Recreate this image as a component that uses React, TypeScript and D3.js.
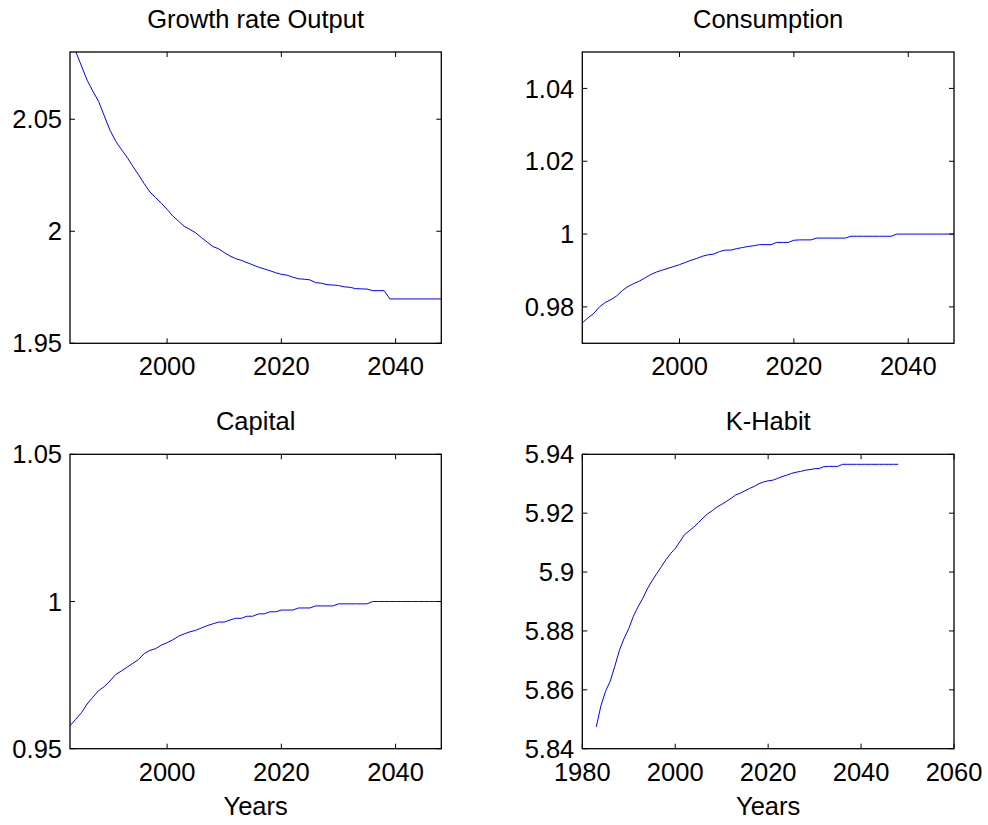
import React from "react";
import * as d3 from "d3";

const years = [
  1983, 1984, 1985, 1986, 1987, 1988, 1989, 1990, 1991, 1992, 1993, 1994, 1995, 1996, 1997, 1998, 1999,
  2000, 2001, 2002, 2003, 2004, 2005, 2006, 2007, 2008, 2009, 2010, 2011, 2012, 2013, 2014, 2015, 2016,
  2017, 2018, 2019, 2020, 2021, 2022, 2023, 2024, 2025, 2026, 2027, 2028, 2029, 2030, 2031, 2032, 2033,
  2034, 2035, 2036, 2037, 2038, 2039, 2040, 2041, 2042, 2043, 2044, 2045, 2046, 2047, 2048,
];

const growthOutput = [
  2.0865, 2.0802, 2.0738, 2.0674, 2.0625, 2.058, 2.0515, 2.0451, 2.0402, 2.0365, 2.033, 2.029, 2.0252,
  2.0212, 2.0175, 2.015, 2.0125, 2.0098, 2.0068, 2.0045, 2.0022, 2.0008, 1.9993, 1.9972, 1.9952, 1.9932,
  1.9922, 1.9905, 1.989, 1.9878, 1.987, 1.986, 1.985, 1.984, 1.9832, 1.9824, 1.9815, 1.9808, 1.9804,
  1.9795, 1.9788, 1.9786, 1.9783, 1.9771, 1.9768, 1.9762, 1.976, 1.9758, 1.9752, 1.975, 1.9744, 1.9743,
  1.9742, 1.9735, 1.9735, 1.9735, 1.9698, 1.9698, 1.9698, 1.9698, 1.9698, 1.9698, 1.9698, 1.9698, 1.9698,
  1.9698,
];

const consumption = [
  0.9756, 0.977, 0.9782, 0.98, 0.9812, 0.982, 0.983, 0.9845, 0.9856, 0.9864, 0.9871, 0.988, 0.9889, 0.9896,
  0.9901, 0.9906, 0.9911, 0.9916, 0.9922, 0.9928, 0.9933, 0.9939, 0.9943, 0.9945, 0.9952, 0.9956, 0.9956,
  0.996, 0.9963, 0.9966, 0.9968, 0.9971, 0.9971, 0.9971, 0.9977, 0.9977, 0.9977, 0.9983, 0.9984, 0.9984,
  0.9984, 0.9989, 0.9989, 0.9989, 0.9989, 0.9989, 0.9989, 0.9994, 0.9994, 0.9994, 0.9994, 0.9994, 0.9994,
  0.9994, 0.9994, 1.0, 1.0, 1.0, 1.0, 1.0, 1.0, 1.0, 1.0, 1.0, 1.0, 1.0,
];

const capital = [
  0.9578, 0.96, 0.9622, 0.9652, 0.9675, 0.9697, 0.9711, 0.973, 0.9752, 0.9764, 0.9777, 0.979, 0.9803,
  0.9823, 0.9834, 0.984, 0.9852, 0.986, 0.987, 0.9882, 0.989, 0.9897, 0.9902, 0.991, 0.9918, 0.9924, 0.993,
  0.993, 0.9937, 0.9943, 0.9943, 0.995, 0.995, 0.9958, 0.9958, 0.9965, 0.9965, 0.9971, 0.9971, 0.9971,
  0.9978, 0.9978, 0.9978, 0.9985, 0.9985, 0.9985, 0.9985, 0.9992, 0.9992, 0.9992, 0.9992, 0.9992, 0.9992,
  1.0, 1.0, 1.0, 1.0, 1.0, 1.0, 1.0, 1.0, 1.0, 1.0, 1.0, 1.0, 1.0,
];

const kHabit = [
  5.8474, 5.8545, 5.8595, 5.8629, 5.868, 5.8735, 5.8775, 5.8808, 5.885, 5.8882, 5.891, 5.8943, 5.897,
  5.8994, 5.9018, 5.9042, 5.9063, 5.908, 5.9103, 5.9127, 5.914, 5.9153, 5.9168, 5.9184, 5.9198, 5.9209,
  5.9221, 5.923, 5.924, 5.925, 5.9262, 5.9268, 5.9276, 5.9284, 5.9291, 5.93, 5.9306, 5.931, 5.9312,
  5.9318, 5.9324, 5.9329, 5.9335, 5.9339, 5.9342, 5.9346, 5.9348, 5.9351, 5.9352, 5.9358, 5.9359, 5.9359,
  5.9359, 5.9366, 5.9366, 5.9366, 5.9366, 5.9366, 5.9366, 5.9366, 5.9366, 5.9366, 5.9366, 5.9366, 5.9366,
  5.9366,
];

const titles = ["Growth rate Output", "Consumption", "Capital", "K-Habit"];
const xTicksShort = [2000, 2020, 2040];
const xTicksLong = [1980, 2000, 2020, 2040, 2060];
const yTicksGrowth = [1.95, 2, 2.05];
const yTicksCons = [0.98, 1, 1.02, 1.04];
const yTicksCap = [0.95, 1, 1.05];
const yTicksHabit = [5.84, 5.86, 5.88, 5.9, 5.92, 5.94];
const xLabel = "Years";

const FONT = "'Liberation Sans', Arial, Helvetica, sans-serif";
const FS = 25.5;
const TICK = 5;

type PanelProps = {
  id: string;
  title: string;
  values: number[];
  left: number;
  right: number;
  top: number;
  bottom: number;
  xDomain: [number, number];
  yDomain: [number, number];
  xTicks: number[];
  yTicks: number[];
  showXLabel: boolean;
};

function Panel(p: PanelProps) {
  const x = d3.scaleLinear().domain(p.xDomain).range([p.left, p.right]);
  const y = d3.scaleLinear().domain(p.yDomain).range([p.bottom, p.top]);
  const line = d3
    .line<number>()
    .x((_, i) => x(years[i]))
    .y((d) => y(d));
  const fmt = (v: number) => d3.format("~g")(v);
  const cx = (p.left + p.right) / 2;
  return (
    <g>
      <defs>
        <clipPath id={p.id}>
          <rect x={p.left} y={p.top} width={p.right - p.left} height={p.bottom - p.top} />
        </clipPath>
      </defs>
      <rect x={p.left} y={p.top} width={p.right - p.left} height={p.bottom - p.top} fill="#fff" />
      <path d={line(p.values) || ""} fill="none" stroke="#0000ff" strokeWidth={1} clipPath={`url(#${p.id})`} />
      {p.xTicks.map((t) => (
        <g key={"x" + t}>
          <line x1={x(t)} x2={x(t)} y1={p.bottom} y2={p.bottom - TICK} stroke="#000" strokeWidth={1} />
          <line x1={x(t)} x2={x(t)} y1={p.top} y2={p.top + TICK} stroke="#000" strokeWidth={1} />
          <text x={x(t)} y={p.bottom + 32} textAnchor="middle" fontFamily={FONT} fontSize={FS} fill="#000">
            {t}
          </text>
        </g>
      ))}
      {p.yTicks.map((t) => (
        <g key={"y" + t}>
          <line x1={p.left} x2={p.left + TICK} y1={y(t)} y2={y(t)} stroke="#000" strokeWidth={1} />
          <line x1={p.right} x2={p.right - TICK} y1={y(t)} y2={y(t)} stroke="#000" strokeWidth={1} />
          <text
            x={p.left - 8}
            y={y(t)}
            dy="0.36em"
            textAnchor="end"
            fontFamily={FONT}
            fontSize={FS}
            fill="#000"
          >
            {fmt(t)}
          </text>
        </g>
      ))}
      <rect
        x={p.left}
        y={p.top}
        width={p.right - p.left}
        height={p.bottom - p.top}
        fill="none"
        stroke="#000"
        strokeWidth={1.3}
      />
      <text x={cx} y={p.top - 24} textAnchor="middle" fontFamily={FONT} fontSize={FS} fill="#000">
        {p.title}
      </text>
      {p.showXLabel && (
        <text x={cx} y={p.bottom + 66.5} textAnchor="middle" fontFamily={FONT} fontSize={FS} fill="#000">
          {xLabel}
        </text>
      )}
    </g>
  );
}

export default function App() {
  const L1 = 70, R1 = 441.3, L2 = 582.3, R2 = 954;
  const T1 = 52, B1 = 343.3, T2 = 454.3, B2 = 748.7;
  const shortDomain: [number, number] = [years[0], years[years.length - 1]];
  return (
    <div style={{ position: "absolute", left: 0, top: 0, width: 988, height: 825, background: "#fff" }}>
      <svg width={988} height={825} viewBox="0 0 988 825" style={{ display: "block" }}>
        <rect x={0} y={0} width={988} height={825} fill="#fff" />
        <Panel
          id="c1"
          title={titles[0]}
          values={growthOutput}
          left={L1}
          right={R1}
          top={T1}
          bottom={B1}
          xDomain={shortDomain}
          yDomain={[1.95, 2.08]}
          xTicks={xTicksShort}
          yTicks={yTicksGrowth}
          showXLabel={false}
        />
        <Panel
          id="c2"
          title={titles[1]}
          values={consumption}
          left={L2}
          right={R2}
          top={T1}
          bottom={B1}
          xDomain={shortDomain}
          yDomain={[0.97, 1.05]}
          xTicks={xTicksShort}
          yTicks={yTicksCons}
          showXLabel={false}
        />
        <Panel
          id="c3"
          title={titles[2]}
          values={capital}
          left={L1}
          right={R1}
          top={T2}
          bottom={B2}
          xDomain={shortDomain}
          yDomain={[0.95, 1.05]}
          xTicks={xTicksShort}
          yTicks={yTicksCap}
          showXLabel={true}
        />
        <Panel
          id="c4"
          title={titles[3]}
          values={kHabit}
          left={L2}
          right={R2}
          top={T2}
          bottom={B2}
          xDomain={[1980, 2060]}
          yDomain={[5.84, 5.94]}
          xTicks={xTicksLong}
          yTicks={yTicksHabit}
          showXLabel={true}
        />
      </svg>
    </div>
  );
}
